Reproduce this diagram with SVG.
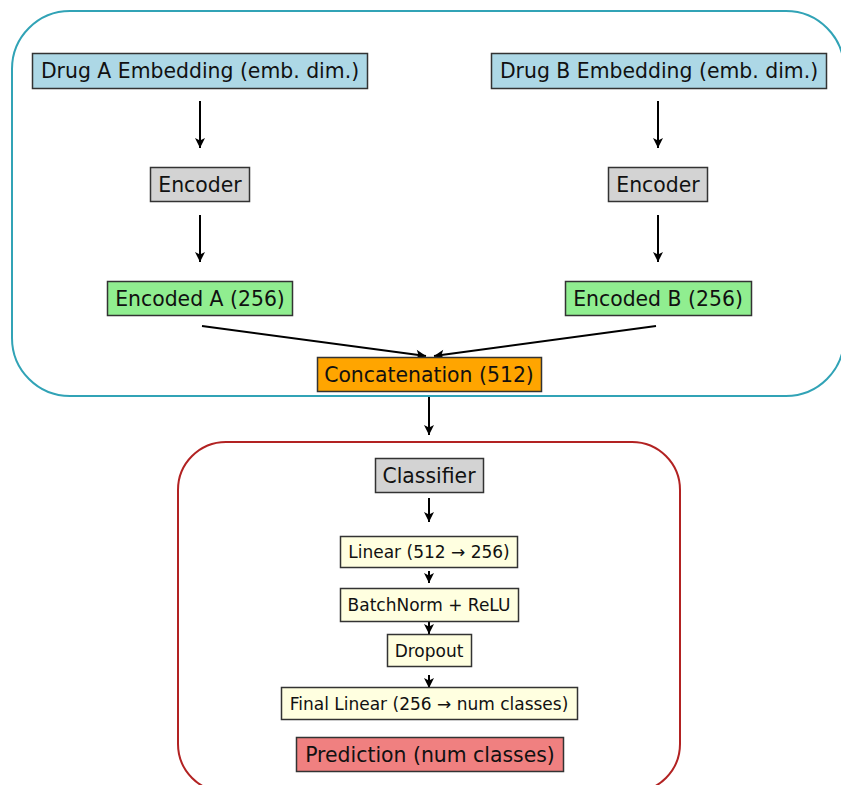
<svg xmlns="http://www.w3.org/2000/svg" width="841" height="785" viewBox="0 0 841 785">
<style>
  .box{stroke:#333;stroke-width:1.5}
  .t{font-family:"DejaVu Sans",sans-serif;font-size:20.4px;fill:#111;text-anchor:middle}
  .s{font-family:"DejaVu Sans",sans-serif;font-size:17px;fill:#111;text-anchor:middle}
  .c{stroke:#000;stroke-width:2;fill:none;marker-end:url(#ah)}
</style>
<defs>
  <marker id="ah" markerUnits="userSpaceOnUse" markerWidth="14" markerHeight="14" viewBox="-12 -7 14 14" refX="0" refY="0" orient="auto">
    <path d="M0,0 L-10,-5 L-7.5,0 L-10,5 Z" fill="#000"/>
  </marker>
</defs>
<rect width="841" height="785" fill="#fff"/>
<g id="encoder-panel">
  <rect x="12" y="11" width="832" height="385" rx="58" ry="58" fill="none" stroke="#31a3b6" stroke-width="2"/>
</g>
<g id="classifier-panel">
  <rect x="178" y="442" width="502" height="350" rx="48" ry="48" fill="none" stroke="#b22222" stroke-width="2"/>
</g>
<g id="connectors">
  <line class="c" x1="200" y1="101" x2="200" y2="148"/>
  <line class="c" x1="200" y1="215" x2="200" y2="262"/>
  <line class="c" x1="658" y1="101" x2="658" y2="148"/>
  <line class="c" x1="658" y1="215" x2="658" y2="262"/>
  <line class="c" x1="202" y1="326" x2="426" y2="356"/>
  <line class="c" x1="656" y1="326" x2="434" y2="356"/>
  <line class="c" x1="429" y1="397" x2="429" y2="435"/>
  <line class="c" x1="429" y1="498" x2="429" y2="522"/>
  <line class="c" x1="429" y1="571" x2="429" y2="583"/>
  <line class="c" x1="429" y1="622" x2="429" y2="634"/>
  <line class="c" x1="429" y1="675" x2="429" y2="688"/>
</g>
<g id="drug-a">
  <rect class="box" x="32.5" y="53.5" width="335" height="35" fill="#add8e6"/>
  <text class="t" x="200" y="77.5">Drug A Embedding (emb. dim.)</text>
</g>
<g id="drug-b">
  <rect class="box" x="491.5" y="53.5" width="335" height="35" fill="#add8e6"/>
  <text class="t" x="659" y="77.5">Drug B Embedding (emb. dim.)</text>
</g>
<g id="encoder-a">
  <rect class="box" x="150.5" y="167.5" width="99" height="34" fill="#d3d3d3"/>
  <text class="t" x="200" y="191.5">Encoder</text>
</g>
<g id="encoder-b">
  <rect class="box" x="608.5" y="167.5" width="99" height="34" fill="#d3d3d3"/>
  <text class="t" x="658" y="191.5">Encoder</text>
</g>
<g id="encoded-a">
  <rect class="box" x="107.5" y="281.5" width="185" height="34" fill="#90ee90"/>
  <text class="t" x="200" y="305.5">Encoded A (256)</text>
</g>
<g id="encoded-b">
  <rect class="box" x="565.5" y="281.5" width="186" height="34" fill="#90ee90"/>
  <text class="t" x="658" y="305.5">Encoded B (256)</text>
</g>
<g id="concat">
  <rect class="box" x="317.5" y="357.5" width="224" height="34" fill="#ffa500"/>
  <text class="t" x="429" y="381.5">Concatenation (512)</text>
</g>
<g id="classifier">
  <rect class="box" x="375.5" y="458.5" width="108" height="34" fill="#d3d3d3"/>
  <text class="t" x="429" y="482.5">Classifier</text>
</g>
<g id="linear">
  <rect class="box" x="340.5" y="536.5" width="177" height="31" fill="#ffffe0"/>
  <text class="s" x="429" y="558">Linear (512 → 256)</text>
</g>
<g id="batchnorm">
  <rect class="box" x="340.5" y="588.5" width="178" height="33" fill="#ffffe0"/>
  <text class="s" x="429" y="611">BatchNorm + ReLU</text>
</g>
<g id="dropout">
  <rect class="box" x="387.5" y="634.5" width="84" height="32" fill="#ffffe0"/>
  <text class="s" x="429" y="656.5">Dropout</text>
</g>
<g id="final-linear">
  <rect class="box" x="281.5" y="687.5" width="296" height="32" fill="#ffffe0"/>
  <text class="s" x="429" y="709.5">Final Linear (256 → num classes)</text>
</g>
<g id="prediction">
  <rect class="box" x="296.5" y="737.5" width="267" height="34" fill="#f08080"/>
  <text class="t" x="430" y="761.5">Prediction (num classes)</text>
</g>
</svg>
